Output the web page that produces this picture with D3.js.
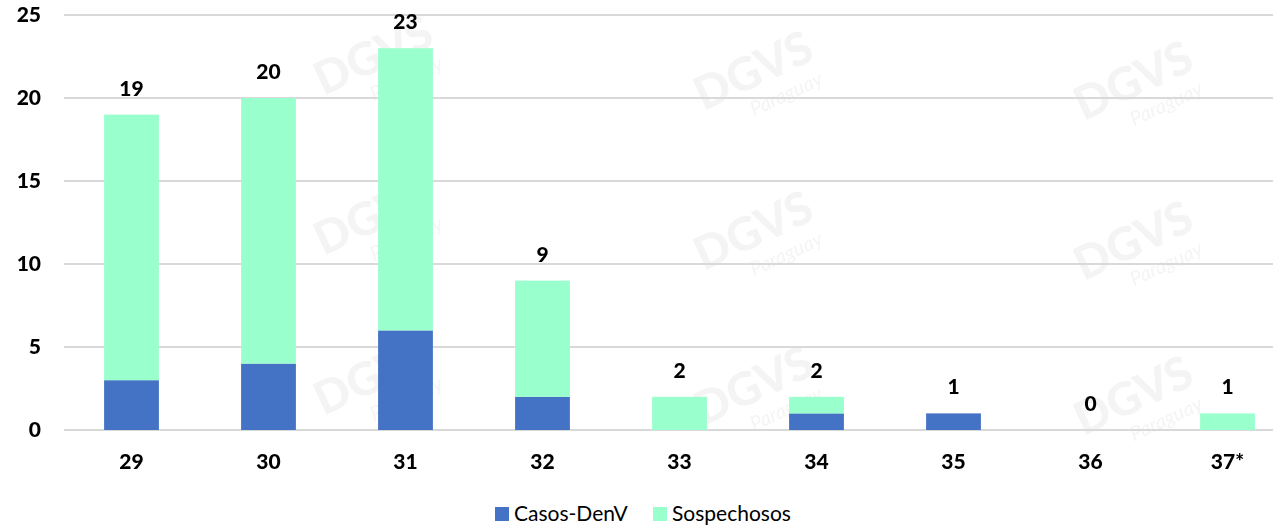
<!DOCTYPE html>
<html lang="es">
<head>
<meta charset="UTF-8">
<title>Casos DenV por semana</title>
<script src="https://cdn.jsdelivr.net/npm/d3@7"></script>
<style>
  body { margin: 0; background: #fff; }
  text { font-family: Lato, "Open Sans", sans-serif; }
</style>
</head>
<body>
<script>
var semanas = ["29", "30", "31", "32", "33", "34", "35", "36", "37*"];
var casos = [3, 4, 6, 2, 0, 1, 1, 0, 0];
var sospechosos = [16, 16, 17, 7, 2, 1, 0, 0, 1];
var series = ["Casos-DenV", "Sospechosos"];
var colores = ["#4472C4", "#99FFCC"];
var yTicks = [0, 5, 10, 15, 20, 25];

var width = 1273, height = 526;
var svg = d3.select("body").append("svg").attr("width", width).attr("height", height);

// marca de agua tenue
var wm = svg.append("g").attr("fill", "#bbb").attr("opacity", 0.16);
[[380, 70], [760, 85], [1140, 95], [380, 230], [760, 245], [1140, 255],
 [380, 390], [760, 400], [1140, 410]].forEach(function(p) {
    var g = wm.append("g").attr("transform", "translate(" + p[0] + "," + p[1] + ") rotate(-25)");
    g.append("text").attr("font-size", 46).attr("font-weight", 900).attr("text-anchor", "middle").text("DGVS");
    g.append("text").attr("y", 26).attr("x", 20).attr("font-size", 20).attr("font-style", "italic")
        .attr("text-anchor", "middle").text("Paraguay");
});

var rows = semanas.map(function(s, i) {
    return { semana: s, "Casos-DenV": casos[i], "Sospechosos": sospechosos[i] };
});
var stacked = d3.stack().keys(series)(rows);

var x = d3.scaleBand().domain(semanas).range([63, 1296]).paddingInner(0.6).paddingOuter(0.3);
var y = d3.scaleLinear().domain([0, 25]).range([430, 15]);

// gridlines
svg.append("g").selectAll("line").data(yTicks).enter().append("line")
    .attr("x1", 64).attr("x2", width)
    .attr("y1", function(d) { return y(d); }).attr("y2", function(d) { return y(d); })
    .attr("stroke", "#d9d9d9").attr("stroke-width", 2);

// y labels
svg.append("g").selectAll("text").data(yTicks).enter().append("text")
    .attr("x", 41).attr("y", function(d) { return y(d); }).attr("dy", "0.35em")
    .attr("text-anchor", "end").attr("font-size", 21).attr("font-weight", 900).attr("fill", "#000")
    .text(function(d) { return d; });

// bars
svg.append("g").selectAll("g").data(stacked).enter().append("g")
    .attr("fill", function(d, i) { return colores[i]; })
    .selectAll("rect").data(function(d) { return d; }).enter().append("rect")
    .attr("x", function(d) { return x(d.data.semana); })
    .attr("width", x.bandwidth())
    .attr("y", function(d) { return y(d[1]); })
    .attr("height", function(d) { return y(d[0]) - y(d[1]); });

// totals
svg.append("g").selectAll("text").data(rows).enter().append("text")
    .attr("x", function(d) { return x(d.semana) + x.bandwidth() / 2; })
    .attr("y", function(d) { return y(d["Casos-DenV"] + d["Sospechosos"]) - 19; })
    .attr("text-anchor", "middle").attr("font-size", 21).attr("font-weight", 900)
    .text(function(d) { return d["Casos-DenV"] + d["Sospechosos"]; });

// x labels
svg.append("g").selectAll("text").data(semanas).enter().append("text")
    .attr("x", function(d) { return x(d) + x.bandwidth() / 2; })
    .attr("y", 469).attr("text-anchor", "middle").attr("font-size", 21).attr("font-weight", 900)
    .text(function(d) { return d; });

// legend
var legX = [495, 653];
var leg = svg.append("g").selectAll("g").data(series).enter().append("g")
    .attr("transform", function(d, i) { return "translate(" + legX[i] + ",507)"; });
leg.append("rect").attr("width", 14).attr("height", 14).attr("fill", function(d, i) { return colores[i]; });
leg.append("text").attr("x", 19).attr("y", 7).attr("dy", "0.35em").attr("font-size", 21)
    .attr("fill", "#000").text(function(d) { return d; });
</script>
</body>
</html>
